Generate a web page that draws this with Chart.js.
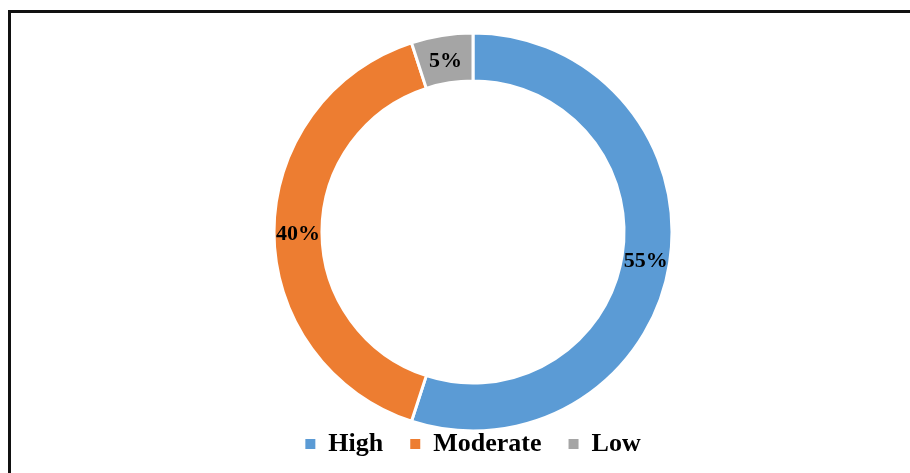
<!DOCTYPE html>
<html>
<head>
<meta charset="utf-8">
<script src="https://cdn.jsdelivr.net/npm/chart.js@4/dist/chart.umd.min.js"></script>
<style>
  html, body { margin: 0; padding: 0; background: #fff; }
  #wrap { position: relative; width: 910px; height: 473px; overflow: hidden; }
  #frame { position: absolute; left: 8px; top: 10px; width: 1000px; height: 1000px;
           border-top: 3px solid #111; border-left: 3px solid #111; box-sizing: border-box; }
  canvas { position: absolute; left: 0; top: 0; }
</style>
</head>
<body>
<div id="wrap">
  <div id="frame"></div>
  <canvas id="chart" width="910" height="473"></canvas>
</div>
<script>
// Risk level shares (percent)
const categories = ['High', 'Moderate', 'Low'];
const shares = [55, 40, 5];
const sliceColors = ['#5B9BD5', '#ED7D31', '#A5A5A5'];

const serif = "'Liberation Serif', 'Times New Roman', serif";

// Writes each slice's percentage in the middle of its ring segment
const sliceLabels = {
  id: 'sliceLabels',
  afterDatasetsDraw(chart) {
    const ctx = chart.ctx;
    const meta = chart.getDatasetMeta(0);
    const values = chart.data.datasets[0].data;
    ctx.save();
    ctx.font = 'bold 22px ' + serif;
    ctx.fillStyle = '#000';
    ctx.textAlign = 'center';
    ctx.textBaseline = 'middle';
    meta.data.forEach((arc, i) => {
      const p = arc.getProps(['x', 'y', 'startAngle', 'endAngle', 'innerRadius', 'outerRadius'], true);
      const a = (p.startAngle + p.endAngle) / 2;
      const r = (p.innerRadius + p.outerRadius) / 2;
      ctx.fillText(values[i] + '%', p.x + Math.cos(a) * r, p.y + Math.sin(a) * r + 2);
    });
    ctx.restore();
  }
};

new Chart(document.getElementById('chart'), {
  type: 'doughnut',
  data: {
    labels: categories,
    datasets: [{
      data: shares,
      backgroundColor: sliceColors,
      borderColor: '#ffffff',
      borderWidth: 3,
      radius: 199,
      cutout: '75.9%',
      clip: false
    }]
  },
  options: {
    responsive: false,
    devicePixelRatio: 1,
    animation: false,
    layout: { padding: { top: 60, bottom: 6, left: 36, right: 0 } },
    plugins: {
      tooltip: { enabled: false },
      legend: {
        position: 'bottom',
        labels: {
          color: '#000',
          boxWidth: 10,
          boxHeight: 10,
          padding: 27,
          font: { family: serif, size: 26, weight: 'bold' },
          generateLabels(chart) {
            const ds = chart.data.datasets[0];
            return chart.data.labels.map((text, i) => ({
              text,
              fillStyle: ds.backgroundColor[i],
              strokeStyle: ds.backgroundColor[i],
              lineWidth: 0,
              hidden: false,
              index: i
            }));
          }
        }
      }
    }
  },
  plugins: [sliceLabels]
});
</script>
</body>
</html>
